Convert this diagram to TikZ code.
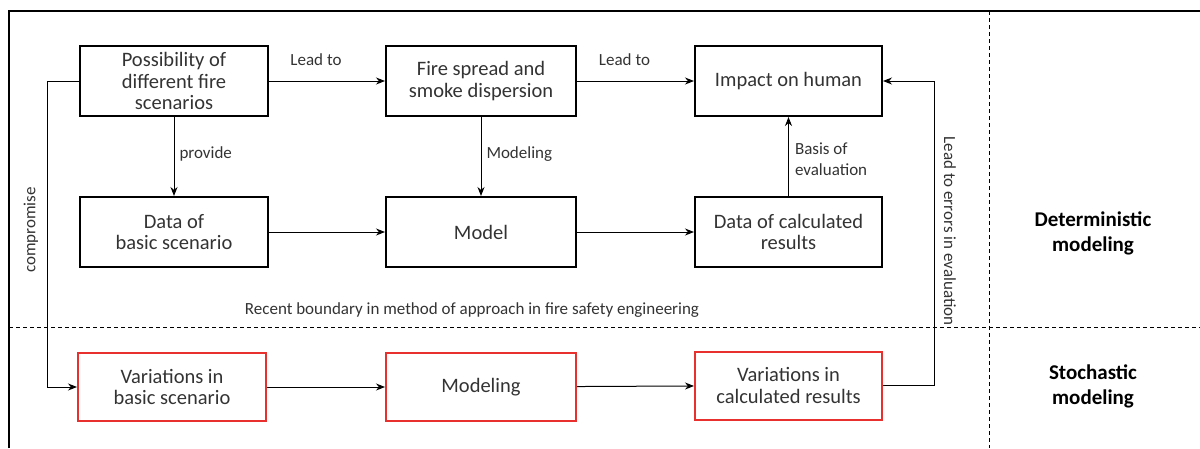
\documentclass[tikz,border=0pt]{standalone}
\usepackage{fontspec}
\setmainfont{Carlito}
\usetikzlibrary{arrows.meta}
\definecolor{txt}{HTML}{333333}
\definecolor{redb}{HTML}{E8312F}
\begin{document}
\begin{tikzpicture}[x=1pt,y=-1pt,
  box/.style={draw=black,line width=2pt,minimum width=188pt,minimum height=70pt,align=center,font=\fontsize{20.5}{21.5}\selectfont,text=txt,inner sep=0pt},
  rbox/.style={box,draw=redb,minimum height=68pt},
  conn/.style={line width=1pt,-{Stealth[length=9pt,width=7pt]}},
  lab/.style={font=\fontsize{17}{21}\selectfont,text=txt,align=left,inner sep=0pt},
  side/.style={font=\bfseries\fontsize{21}{25}\selectfont,text=black,align=center},
  dsh/.style={line width=1pt,dash pattern=on 4pt off 3pt}]
\useasboundingbox (0,0) rectangle (1200,448);
% frame
\draw[line width=2.2pt] (9,448) -- (9,11) -- (1200,11);
\draw[dsh] (989,11) -- (989,448);
\draw[dsh] (9,327) -- (1200,327);
% boxes
\node[box] (b1) at (174,81) {Possibility of\\different fire\\scenarios};
\node[box,minimum width=190pt] (b2) at (481,81) {Fire spread and\\smoke dispersion};
\node[box,minimum width=187pt] (b3) at (788.5,81) {Impact on human};
\node[box] (b4) at (174,232) {Data of\\basic scenario};
\node[box,minimum width=190pt] (b5) at (481,232) {Model};
\node[box,minimum width=187pt] (b6) at (788.5,232) {Data of calculated\\results};
\node[rbox] (r1) at (172,387) {Variations in\\basic scenario};
\node[rbox,minimum width=190pt] (r2) at (481,387) {Modeling};
\node[rbox,minimum width=187pt] (r3) at (788.5,385.5) {Variations in\\calculated results};
% connectors
\draw[conn] (b1) -- node[lab,above=15pt,xshift=-11pt] {Lead to} (b2);
\draw[conn] (b2) -- node[lab,above=15pt,xshift=-11pt] {Lead to} (b3);
\draw[conn] (b1) -- node[lab,right=5pt,pos=0.47] {provide} (b4);
\draw[conn] (b2) -- node[lab,right=5pt,pos=0.47] {Modeling} (b5);
\draw[conn] (b6) -- node[lab,right=6pt,pos=0.47] {Basis of\\evaluation} (b3);
\draw[conn] (b4) -- (b5);
\draw[conn] (b5) -- (b6);
\draw[conn] (r1) -- (r2);
\draw[conn] (r2) -- (r3);
\coordinate (cl) at (47,81);
\coordinate (cr) at (934,81);
\draw[conn] (b1.west) -- (cl) -- (cl |- r1.west) -- (r1.west);
\draw[conn] (r3.east) -- (cr |- r3.east) -- (cr) -- (b3.east);
\node[lab,rotate=90] (lc) at (31,230) {compromise};
\node[lab,rotate=-90] (le) at (950,231) {Lead to errors in evaluation};
\node[lab] (bd) at (472,310) {Recent\ boundary in method\ of approach in fire safety engineering};
\node[side] (det) at (1093,233) {Deterministic\\modeling};
\node[side] (sto) at (1093,386.5) {Stochastic\\modeling};
\end{tikzpicture}
\end{document}
